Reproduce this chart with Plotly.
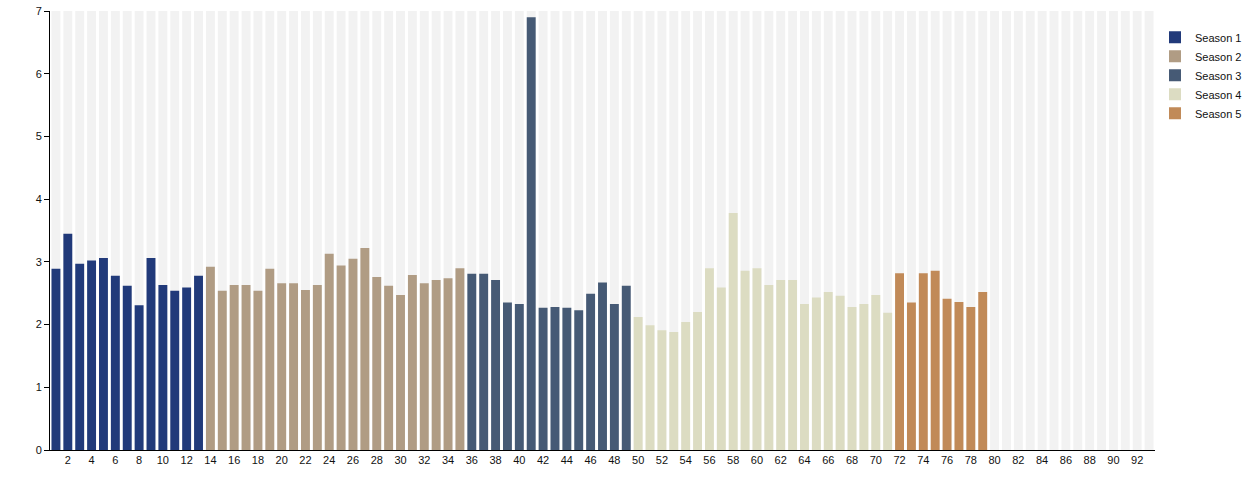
import plotly.graph_objects as go

# episode ratings per season
season_names = ["Season 1", "Season 2", "Season 3", "Season 4", "Season 5"]
season_colors = ["#213a7a", "#b09c84", "#465a75", "#dcdcc2", "#c18a58"]

season_1 = [2.89, 3.45, 2.97, 3.02, 3.06, 2.78, 2.62, 2.31, 3.06, 2.63, 2.54, 2.59, 2.78]
season_2 = [2.92, 2.54, 2.63, 2.63, 2.54, 2.89, 2.66, 2.66, 2.55, 2.63, 3.13, 2.94,
            3.05, 3.22, 2.76, 2.62, 2.47, 2.79, 2.66, 2.71, 2.74, 2.90]
season_3 = [2.81, 2.81, 2.71, 2.35, 2.33, 6.90, 2.27, 2.28, 2.27, 2.23, 2.49, 2.67,
            2.33, 2.62]
season_4 = [2.12, 1.99, 1.91, 1.88, 2.04, 2.20, 2.90, 2.59, 3.78, 2.86, 2.90, 2.63,
            2.71, 2.71, 2.33, 2.43, 2.52, 2.46, 2.28, 2.33, 2.47, 2.19]
season_5 = [2.82, 2.35, 2.82, 2.86, 2.41, 2.36, 2.28, 2.52]

seasons = [season_1, season_2, season_3, season_4, season_5]

n_slots = 93
y_max = 7

fig = go.Figure()

# light grey background bars for every slot
slots = list(range(1, n_slots + 1))
fig.add_trace(
    go.Bar(
        x=slots,
        y=[y_max] * n_slots,
        marker_color="#f2f2f2",
        marker_line_width=0,
        showlegend=False,
        hoverinfo="skip",
    )
)

start = 1
for name, color, values in zip(season_names, season_colors, seasons):
    episodes = list(range(start, start + len(values)))
    fig.add_trace(
        go.Bar(
            x=episodes,
            y=values,
            name=name,
            marker_color=color,
            marker_line_width=0,
        )
    )
    start += len(values)

fig.update_layout(
    width=1254,
    height=500,
    barmode="overlay",
    bargap=0.25,
    plot_bgcolor="white",
    paper_bgcolor="white",
    font=dict(family="Liberation Sans, Arial", size=11, color="#111"),
    margin=dict(l=50, r=99, t=11, b=50, autoexpand=False),
    legend=dict(
        x=1.0,
        y=0.973,
        xanchor="left",
        yanchor="top",
        font=dict(size=11),
    ),
)
fig.update_xaxes(
    range=[0.5, n_slots + 0.5],
    tick0=0,
    dtick=2,
    showgrid=False,
    zeroline=False,
    showline=True,
    linecolor="black",
    linewidth=1,
    ticks="",
)
fig.update_yaxes(
    range=[0, y_max],
    dtick=1,
    showgrid=False,
    zeroline=False,
    showline=True,
    linecolor="black",
    linewidth=1,
    ticks="outside",
    ticklen=5,
    tickcolor="black",
)

# drop the default 8px body margin so the figure sits at the window corner
fig.write_html(
    "out.html",
    config={"displayModeBar": False},
    post_script="document.body.style.margin = '0';",
)
